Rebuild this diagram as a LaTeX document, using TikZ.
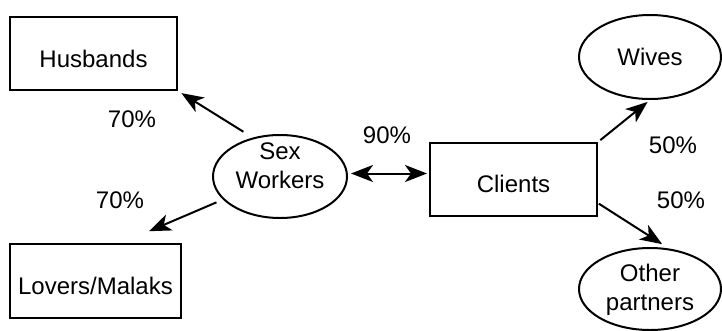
\documentclass[tikz,border=0pt]{standalone}
\usepackage{fontspec}
\setmainfont{Liberation Sans}
\usetikzlibrary{shapes.geometric,arrows.meta,calc}
\begin{document}
\begin{tikzpicture}[x=1pt,y=-1pt,
  every node/.style={font=\fontsize{24}{29}\selectfont, inner sep=0pt},
  boxnode/.style={draw, line width=2pt, rectangle},
  ellnode/.style={draw, line width=2pt, ellipse},
  txt/.style={anchor=base, align=center},
  pct/.style={anchor=base},
  arr/.style={line width=2pt, -{Stealth[length=22pt,width=17pt,inset=6pt]}},
  darr/.style={line width=2pt, {Stealth[length=22pt,width=17pt,inset=6pt]}-{Stealth[length=22pt,width=17pt,inset=6pt]}}]
\useasboundingbox (0,0) rectangle (722,330);
% shapes
\node[boxnode, minimum width=167pt, minimum height=73pt] (hus) at (93.5,53.5) {};
\node[boxnode, minimum width=171pt, minimum height=74pt] (lov) at (95.5,281) {};
\node[boxnode, minimum width=167pt, minimum height=73pt] (cli) at (513.5,179.5) {};
\node[ellnode, minimum width=134pt, minimum height=83pt] (sw) at (280,176.5) {};
\node[ellnode, minimum width=142pt, minimum height=84pt] (wiv) at (650,57) {};
\node[ellnode, minimum width=142pt, minimum height=82pt] (oth) at (650,289) {};
% texts
\node[txt] (husT) at ([yshift=-13.5pt]hus.center) {Husbands};
\node[txt] (lovT) at ([yshift=-13pt]lov.center) {Lovers/Malaks};
\node[txt] (cliT) at ([yshift=-12.5pt]cli.center) {Clients};
\node[txt] (wivT) at ([yshift=-8pt]wiv.center) {Wives};
\node[anchor=center, align=center] (swT) at ([yshift=11pt]sw.center) {Sex\\Workers};
\node[anchor=center, align=center] (othT) at ([yshift=-1pt]oth.center) {Other\\partners};
% percentages
\node[pct] (p1) at (132,127) {70\%};
\node[pct] (p2) at (120,208) {70\%};
\node[pct] (p3) at (387,143) {90\%};
\node[pct] (p4) at (673,153) {50\%};
\node[pct] (p5) at (681,208) {50\%};
% connectors
\draw[arr, shorten <=11pt, shorten >=4pt] (sw.125) -- (hus.south east);
\draw[arr, shorten <=7pt, shorten >=30pt] (sw.202) -- ($(lov.north west)!0.65!(lov.north east)$);
\draw[darr, shorten <=3pt, shorten >=2pt] ([yshift=3pt]sw.east) -- ([yshift=3pt]sw.east -| cli.west);
\draw[arr, shorten <=3pt, shorten >=3pt] (cli.north east) -- (wiv.south);
\draw[arr, shorten <=1pt, shorten >=8pt] ($(cli.east)!0.63!(cli.south east)$) -- (oth.65);
\end{tikzpicture}
\end{document}
